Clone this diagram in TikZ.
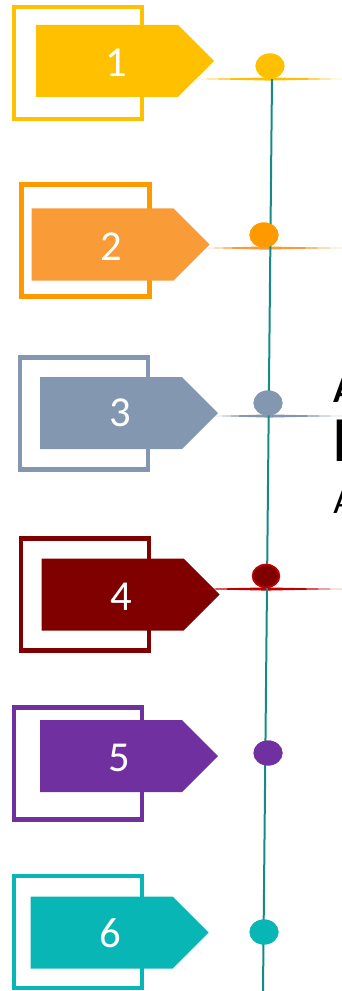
\documentclass[tikz,border=0pt]{standalone}
\usepackage{fontspec}
\setmainfont{Carlito}
\usetikzlibrary{shapes.geometric,shapes.symbols,calc}
\definecolor{cyellow}{HTML}{FFC000}
\definecolor{corange}{HTML}{FF9900}
\definecolor{corangetag}{HTML}{F99B36}
\definecolor{cslate}{HTML}{8497B0}
\definecolor{cmaroon}{HTML}{800000}
\definecolor{cred}{HTML}{C00000}
\definecolor{cpurple}{HTML}{7030A0}
\definecolor{cteal}{HTML}{09B6B6}
\definecolor{cspine}{HTML}{168A84}
\tikzset{
  box/.style={
    draw=#1,
    rectangle,
    line width=3.4pt,
    minimum width=96pt,
    minimum height=84pt,
    inner sep=0pt,
    outer sep=0pt,
  },
  tagbox/.style={
    fill=#1,
    signal,
    signal to=east,
    signal pointer angle=90,
    minimum width=133.5pt,
    minimum height=54pt,
    inner sep=0pt,
    outer sep=0pt,
    anchor=west,
  },
  numlbl/.style={
    text=white,
    inner sep=0pt,
    font=\fontsize{32}{32}\selectfont,
  },
  dotmark/.style={
    fill=#1,
    ellipse,
    minimum width=21.75pt,
    minimum height=18.75pt,
    inner sep=0pt,
  },
  spine/.style={
    draw=cspine,
    line width=1.5pt,
  },
  txt/.style={
    anchor=base west,
    inner sep=0pt,
  },
}

\begin{document}
\begin{tikzpicture}[x=0.75pt,y=-0.75pt]
  \useasboundingbox (0,0) rectangle (342,991);
  \clip (0,0) rectangle (342,991);

  % frames
  \node[box=cyellow] (box1) at (78,63) {};
  \node[box=corange] (box2) at (85.7,240.3) {};
  \node[box=cslate] (box3) at (84,413.3) {};
  \node[box=cmaroon] (box4) at (85,594.3) {};
  \node[box=cpurple] (box5) at (78,763.3) {};
  \node[box=cteal] (box6) at (78,932) {};

  % numbered tags
  \node[tagbox=cyellow] (tag1) at (36,61) {};
  \node[tagbox=corangetag] (tag2) at (31.7,244.5) {};
  \node[tagbox=cslate] (tag3) at (40,413.2) {};
  \node[tagbox=cmaroon] (tag4) at (41.7,594.5) {};
  \node[tagbox=cpurple] (tag5) at (40,756.2) {};
  \node[tagbox=cteal] (tag6) at (30.7,932.5) {};

  \node[numlbl] (num1) at ([xshift=60pt,yshift=-1.5pt]tag1.west) {1};
  \node[numlbl] (num2) at ([xshift=60pt,yshift=-1.5pt]tag2.west) {2};
  \node[numlbl] (num3) at ([xshift=60pt]tag3.west) {3};
  \node[numlbl] (num4) at ([xshift=60pt,yshift=-1.5pt]tag4.west) {4};
  \node[numlbl] (num5) at ([xshift=59.5pt,yshift=-1.5pt]tag5.west) {5};
  \node[numlbl] (num6) at ([xshift=59.5pt,yshift=-0.5pt]tag6.west) {6};

  % dots on the time line
  \node[dotmark=cyellow] (dot1) at (270,66) {};
  \node[dotmark=corange] (dot2) at (264,235) {};
  \node[dotmark=cslate] (dot3) at (268,403) {};
  \node[dotmark=cmaroon, draw=cred, line width=1.2pt, minimum width=20pt, minimum height=17pt] (dot4) at (266,576) {};
  \node[dotmark=cpurple] (dot5) at (268,753) {};
  \node[dotmark=cteal] (dot6) at (264,932) {};

  % thin pointers to the right
  \coordinate (s1) at (195,79);  \coordinate (e1) at (342,79);
  \coordinate (s2) at (205,248); \coordinate (e2) at (342,248);
  \coordinate (s3) at (214,416); \coordinate (e3) at (342,416);
  \coordinate (s4) at (193,589); \coordinate (e4) at (342,589);
  \fill[cyellow] (s1) -- ($(dot1|-s1)+(0,-1.6)$) -- (e1) -- ($(dot1|-s1)+(0,1.6)$) -- cycle;
  \fill[corangetag] (s2) -- ($(dot2|-s2)+(0,-1.6)$) -- (e2) -- ($(dot2|-s2)+(0,1.6)$) -- cycle;
  \fill[cslate] (s3) -- ($(dot3|-s3)+(0,-1.6)$) -- (e3) -- ($(dot3|-s3)+(0,1.6)$) -- cycle;
  \fill[cred] (s4) -- ($(dot4|-s4)+(0,-1.6)$) -- (e4) -- ($(dot4|-s4)+(0,1.6)$) -- cycle;

  % spine
  \coordinate (vtop) at (272,79);
  \coordinate (vbot) at (263,991);
  \draw[spine] (vtop) -- (vbot);

  % dots again on top of the spine
  \node[dotmark=cyellow] at (dot1) {};
  \node[dotmark=corange] at (dot2) {};
  \node[dotmark=cslate] at (dot3) {};
  \node[dotmark=cmaroon, draw=cred, line width=1.2pt, minimum width=20pt, minimum height=17pt] at (dot4) {};
  \node[dotmark=cpurple] at (dot5) {};
  \node[dotmark=cteal] at (dot6) {};

  % text cut by the right edge
  \node[txt, font=\bfseries\fontsize{28}{28}\selectfont] (txta) at (333,402) {A};
  \node[txt, font=\bfseries\fontsize{48}{48}\selectfont] (txtb) at (333,461) {B};
  \node[txt, font=\fontsize{28}{28}\selectfont] (txtc) at (333,513) {A};
\end{tikzpicture}
\end{document}
